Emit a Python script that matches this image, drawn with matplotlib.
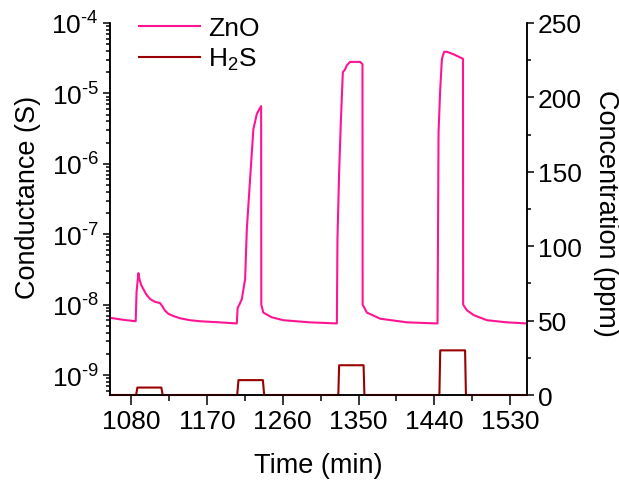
import matplotlib
matplotlib.use('Agg')
import matplotlib.pyplot as plt
from matplotlib.ticker import LogLocator, MultipleLocator, FixedLocator, NullFormatter, FuncFormatter
import math

plt.rcParams['font.family'] = ['Liberation Sans', 'DejaVu Sans']
plt.rcParams['mathtext.fontset'] = 'custom'
plt.rcParams['mathtext.rm'] = 'Liberation Sans'
plt.rcParams['mathtext.it'] = 'Liberation Sans'
plt.rcParams['mathtext.default'] = 'regular'

# ZnO conductance (S) vs time (min)
zno_time = [1055, 1070, 1085.5, 1086.5, 1088.7, 1090, 1092, 1094.6, 1098, 1102.6, 1108,
            1114.4, 1117.6, 1120, 1124.3, 1130, 1138, 1150, 1162, 1185, 1205.5,
            1206.5, 1208.6, 1211.5, 1215.4, 1217.4, 1221.3, 1225.2, 1229.3, 1232, 1234.4,
            1234.6, 1237, 1247, 1261, 1292, 1324.3,
            1325, 1327, 1329, 1331.4, 1334.1, 1336.1, 1340, 1352, 1354.7,
            1354.9, 1360, 1375.8, 1407.5, 1443.8,
            1445, 1447, 1449, 1451.7, 1455, 1462.7, 1474,
            1474.2, 1478.7, 1486.6, 1502.5, 1526, 1550]
zno_cond = [6.5e-9, 6.1e-9, 5.8e-9, 1.5e-8, 2.8e-8, 2.3e-8, 1.9e-8, 1.66e-8, 1.4e-8, 1.2e-8, 1.1e-8,
            1.05e-8, 9.3e-9, 8.3e-9, 7.4e-9, 6.9e-9, 6.4e-9, 6.0e-9, 5.8e-9, 5.6e-9, 5.4e-9,
            9.0e-9, 1.0e-8, 1.2e-8, 2.3e-8, 1.17e-7, 6.1e-7, 3.1e-6, 5.1e-6, 5.9e-6, 6.6e-6,
            1.0e-8, 7.7e-9, 6.6e-9, 6.0e-9, 5.6e-9, 5.4e-9,
            8.5e-8, 7.6e-7, 3.9e-6, 2.0e-5, 2.2e-5, 2.5e-5, 2.8e-5, 2.8e-5, 2.6e-5,
            1.0e-8, 7.7e-9, 6.3e-9, 5.6e-9, 5.4e-9,
            2.8e-6, 1.15e-5, 3.1e-5, 3.9e-5, 3.9e-5, 3.6e-5, 3.1e-5,
            1.0e-8, 8.3e-9, 7.1e-9, 6.0e-9, 5.6e-9, 5.4e-9]

# H2S concentration (ppm) vs time (min)
h2s_time = [1055, 1086, 1087.5, 1116, 1117.5, 1206, 1207.5, 1236.5, 1238,
            1326, 1327, 1356, 1357, 1446, 1447, 1476.5, 1477.5, 1550]
h2s_conc = [0, 0, 5, 5, 0, 0, 10, 10, 0, 0, 20, 20, 0, 0, 30, 30, 0, 0]

x_ticks = [1080, 1170, 1260, 1350, 1440, 1530]
conc_ticks = [0, 50, 100, 150, 200, 250]

zno_color = '#FF1493'
h2s_color = '#990000'

fig = plt.figure(figsize=(6.19, 4.81), dpi=100)
ax = fig.add_axes([110/619, 1-396/481, 417/619, 372/481])
ax2 = ax.twinx()

l1, = ax.plot(zno_time, zno_cond, color=zno_color, lw=1.5, label='ZnO', zorder=3)
l2, = ax2.plot(h2s_time, h2s_conc, color=h2s_color, lw=1.5, label='H$_2$S', clip_on=False)

ax.set_yscale('log')
ax.set_ylim(5.2e-10, 1e-4)
ax.set_xlim(1055, 1550)
ax2.set_ylim(0, 250)

def log_fmt(v, pos):
    e = int(round(math.log10(v)))
    return '10$^{\u2010%d}$' % (-e) if e < 0 else '10$^{%d}$' % e

ax.xaxis.set_major_locator(FixedLocator(x_ticks))
ax.xaxis.set_minor_locator(MultipleLocator(45))
ax.yaxis.set_major_locator(LogLocator(base=10, numticks=20))
ax.yaxis.set_major_formatter(FuncFormatter(log_fmt))
ax.yaxis.set_minor_locator(LogLocator(base=10, subs=range(2, 10), numticks=20))
ax.yaxis.set_minor_formatter(NullFormatter())
ax2.yaxis.set_major_locator(FixedLocator(conc_ticks))
ax2.yaxis.set_minor_locator(MultipleLocator(25))

fs = 19
for a in (ax, ax2):
    a.tick_params(which='major', direction='out', length=5, width=1.1, labelsize=fs, pad=3)
    a.tick_params(which='minor', direction='out', length=3, width=1.1)
    for s in a.spines.values():
        s.set_linewidth(1.1)
ax.tick_params(axis='x', which='major', length=7)
ax.tick_params(axis='x', which='minor', length=4)
ax.spines['top'].set_visible(False)
ax2.spines['top'].set_visible(False)

ax.set_xlabel('Time (min)', fontsize=19.5, labelpad=14)
ax.set_ylabel('Conductance (S)', fontsize=19.5, va='center')
ax.yaxis.set_label_coords(-(110 - 28) / 417, (396 - 197) / 372)
ax2.set_ylabel('Concentration (ppm)', fontsize=19.5, rotation=270, va='center')
ax2.yaxis.set_label_coords((606 - 110) / 417, (396 - 213) / 372)

fig.legend(handles=[l1, l2], loc='upper left', bbox_to_anchor=(126/619, 1-4/481),
           frameon=False, fontsize=19, handlelength=2.3, handletextpad=0.3,
           borderpad=0, labelspacing=0.22)

fig.savefig('out.png', dpi=100)
